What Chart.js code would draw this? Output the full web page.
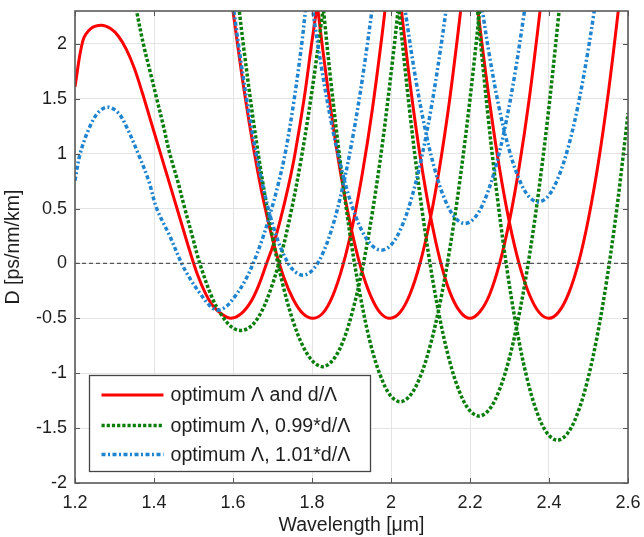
<!DOCTYPE html>
<html><head><meta charset="utf-8">
<script src="https://cdn.jsdelivr.net/npm/chart.js@4/dist/chart.umd.min.js"></script>
<style>html,body{margin:0;padding:0;background:#fff;overflow:hidden}#wrap{width:644px;height:537px;position:relative}</style>
</head><body><div id="wrap"><canvas id="c" width="644" height="537"></canvas></div>
<script>
// ---- axis ticks and labels ----
const xTicks = [1.2, 1.4, 1.6, 1.8, 2.0, 2.2, 2.4, 2.6];
const xLabels = ['1.2', '1.4', '1.6', '1.8', '2', '2.2', '2.4', '2.6'];
const yTicks = [-2, -1.5, -1, -0.5, 0, 0.5, 1, 1.5, 2];
const yLabels = ['-2', '-1.5', '-1', '-0.5', '0', '0.5', '1', '1.5', '2'];
const xTitle = 'Wavelength [\u03bcm]';
const yTitle = 'D [ps/nm/km]';
const seriesNames = ['optimum \u039b and d/\u039b', 'optimum \u039b, 0.99*d/\u039b', 'optimum \u039b, 1.01*d/\u039b'];

// ---- zero reference line ----
const zeroWl = [1.2, 2.6];
const zeroD = [0, 0];

// ---- optimum Λ and d/Λ (red), one list per visible branch ----
const redWl = [
  [1.200,1.220,1.240,1.267,1.290,1.310,1.330,1.350,1.370,1.390,1.410,1.430,1.450,1.470,1.490,1.510,1.530,1.550,1.575,1.595,1.620,1.645,1.665,1.685,1.702,1.720,1.740,1.757,1.780,1.799,1.815],
  [1.598,1.603,1.628,1.653,1.678,1.703,1.728,1.753,1.778,1.803,1.828,1.853,1.878,1.903,1.928,1.953,1.978,1.993],
  [1.808,1.823,1.848,1.873,1.898,1.923,1.948,1.973,1.998,2.023,2.048,2.073,2.098,2.123,2.148,2.173,2.188],
  [2.015,2.025,2.050,2.075,2.100,2.125,2.150,2.175,2.200,2.225,2.250,2.275,2.300,2.325,2.350,2.375,2.390],
  [2.210,2.225,2.250,2.275,2.300,2.325,2.350,2.375,2.400,2.425,2.450,2.475,2.500,2.525,2.550,2.575,2.590]
];
const redD = [
  [1.61,2.03,2.14,2.17,2.14,2.07,1.95,1.78,1.56,1.32,1.08,0.84,0.60,0.36,0.12,-0.10,-0.27,-0.39,-0.47,-0.50,-0.46,-0.35,-0.20,0.00,0.17,0.40,0.70,1.00,1.50,2.00,2.40],
  [2.36,2.22,1.58,1.03,0.56,0.18,-0.12,-0.33,-0.46,-0.50,-0.45,-0.29,-0.02,0.35,0.83,1.41,2.10,2.57],
  [2.53,2.07,1.39,0.81,0.34,-0.03,-0.29,-0.45,-0.50,-0.445,-0.28,-0.005,0.38,0.875,1.48,2.20,2.68],
  [2.68,2.35,1.59,0.95,0.43,0.02,-0.27,-0.44,-0.50,-0.44,-0.28,0.00,0.39,0.89,1.50,2.23,2.71],
  [2.64,2.16,1.46,0.86,0.37,-0.01,-0.28,-0.446,-0.50,-0.44,-0.27,0.01,0.41,0.92,1.55,2.29,2.79]
];

// ---- optimum Λ, 0.99*d/Λ (green) ----
const greenWl = [
  [1.350,1.356,1.373,1.390,1.407,1.424,1.440,1.460,1.478,1.497,1.516,1.547,1.572,1.597,1.622,1.647,1.672,1.697,1.722,1.747,1.772,1.797,1.822,1.837],
  [1.613,1.628,1.653,1.678,1.703,1.728,1.753,1.778,1.803,1.828,1.853,1.878,1.903,1.928,1.953,1.978,2.003,2.018,2.028],
  [1.823,1.833,1.848,1.873,1.898,1.923,1.948,1.973,1.998,2.023,2.048,2.073,2.098,2.123,2.148,2.173,2.198,2.223,2.233],
  [2.013,2.023,2.048,2.073,2.098,2.123,2.148,2.173,2.198,2.223,2.248,2.273,2.298,2.323,2.348,2.373,2.398,2.423,2.433],
  [2.211,2.221,2.246,2.271,2.296,2.321,2.346,2.371,2.396,2.421,2.446,2.471,2.496,2.521,2.546,2.571,2.596,2.600]
];
const greenD = [
  [2.42,2.30,2.00,1.75,1.50,1.25,1.00,0.75,0.50,0.25,0.00,-0.31,-0.475,-0.58,-0.61,-0.567,-0.44,-0.22,0.08,0.47,0.94,1.50,2.15,2.58],
  [2.39,1.94,1.265,0.68,0.185,-0.22,-0.535,-0.76,-0.895,-0.94,-0.88,-0.715,-0.43,-0.04,0.47,1.085,1.82,2.31,2.66],
  [2.54,2.17,1.65,0.88,0.22,-0.31,-0.73,-1.02,-1.20,-1.26,-1.205,-1.04,-0.765,-0.38,0.115,0.72,1.435,2.26,2.62],
  [2.58,2.21,1.366,0.635,0.016,-0.49,-0.884,-1.165,-1.334,-1.39,-1.334,-1.165,-0.884,-0.49,0.016,0.635,1.366,2.21,2.58],
  [2.62,2.23,1.33,0.55,-0.11,-0.65,-1.07,-1.37,-1.55,-1.61,-1.552,-1.378,-1.087,-0.68,-0.157,0.48,1.238,1.37]
];

// ---- optimum Λ, 1.01*d/Λ (blue) ----
const blueWl = [
  [1.200,1.213,1.238,1.260,1.284,1.310,1.331,1.360,1.386,1.407,1.440,1.470,1.495,1.516,1.540,1.559,1.580,1.605,1.630,1.651,1.675,1.698,1.715,1.732,1.753,1.774,1.786],
  [1.592,1.602,1.627,1.652,1.677,1.702,1.727,1.752,1.777,1.802,1.827,1.852,1.877,1.902,1.927,1.952,1.962],
  [1.791,1.801,1.826,1.851,1.876,1.901,1.926,1.951,1.976,2.001,2.026,2.051,2.076,2.101,2.126,2.141],
  [2.027,2.037,2.062,2.087,2.112,2.137,2.162,2.187,2.212,2.237,2.262,2.287,2.312,2.337,2.347],
  [2.223,2.233,2.248,2.273,2.298,2.323,2.348,2.373,2.398,2.423,2.448,2.473,2.498,2.513,2.523]
];
const blueD = [
  [0.755,1.00,1.25,1.38,1.424,1.37,1.24,1.00,0.76,0.50,0.25,0.00,-0.16,-0.27,-0.38,-0.425,-0.40,-0.30,-0.16,0.00,0.23,0.50,0.73,1.00,1.45,2.00,2.40],
  [2.60,2.31,1.67,1.127,0.683,0.337,0.09,-0.058,-0.107,-0.058,0.09,0.337,0.683,1.127,1.67,2.31,2.60],
  [2.585,2.326,1.741,1.246,0.841,0.526,0.301,0.166,0.121,0.172,0.326,0.582,0.941,1.40,1.966,2.35],
  [2.54,2.277,1.692,1.214,0.842,0.577,0.417,0.364,0.417,0.577,0.842,1.214,1.692,2.277,2.54],
  [2.52,2.265,1.92,1.43,1.05,0.78,0.614,0.56,0.614,0.78,1.05,1.43,1.92,2.265,2.52]
];

// ---- helpers ----
function toPoints(wls, ds) {
  const pts = [];
  wls.forEach((arc, i) => {
    if (i) pts.push({ x: arc[0], y: null });
    arc.forEach((x, j) => pts.push({ x: x, y: ds[i][j] }));
  });
  return pts;
}
const FONT = '"Liberation Sans", Arial, Helvetica, sans-serif';
const TXT = '#1e1e1e';
const RED = '#ff0000', GREEN = '#0b7d0b', BLUE = '#1f84d0';
const styles = [
  { color: RED, width: 3, dash: [] },
  { color: GREEN, width: 3.5, dash: [3.2, 2] },
  { color: BLUE, width: 3.5, dash: [4, 2.5, 2, 2.5] }
];

const decoPlugin = {
  id: 'deco',
  afterDraw(chart) {
    const ctx = chart.ctx, a = chart.chartArea;
    const xs = chart.scales.x, ys = chart.scales.y;
    ctx.save();
    ctx.strokeStyle = '#555';
    ctx.lineWidth = 1;
    ctx.beginPath();
    xTicks.forEach(v => {
      const p = Math.round(xs.getPixelForValue(v)) + 0.5;
      ctx.moveTo(p, a.bottom); ctx.lineTo(p, a.bottom - 5);
      ctx.moveTo(p, a.top); ctx.lineTo(p, a.top + 5);
    });
    yTicks.forEach(v => {
      const p = Math.round(ys.getPixelForValue(v)) + 0.5;
      ctx.moveTo(a.left, p); ctx.lineTo(a.left + 5, p);
      ctx.moveTo(a.right, p); ctx.lineTo(a.right - 5, p);
    });
    ctx.stroke();
    ctx.strokeStyle = '#5a5a5a';
    ctx.lineWidth = 1.6;
    ctx.strokeRect(a.left, a.top, a.right - a.left, a.bottom - a.top);
    const lx = 89.5, ly = 375.5, lw = 281, lh = 96;
    ctx.fillStyle = '#fff';
    ctx.fillRect(lx, ly, lw, lh);
    ctx.strokeStyle = '#444';
    ctx.lineWidth = 1.3;
    ctx.strokeRect(lx, ly, lw, lh);
    const rows = [395, 425.5, 454.5];
    seriesNames.forEach((name, i) => {
      const st = styles[i];
      ctx.strokeStyle = st.color;
      ctx.lineWidth = st.width;
      ctx.setLineDash(st.dash);
      ctx.beginPath();
      ctx.moveTo(101.5, rows[i]); ctx.lineTo(163.5, rows[i]);
      ctx.stroke();
      ctx.setLineDash([]);
      ctx.fillStyle = TXT;
      ctx.font = '19.6px ' + FONT;
      ctx.textBaseline = 'middle';
      ctx.textAlign = 'left';
      ctx.fillText(name, 170.5, rows[i] + 1);
    });
    ctx.restore();
  }
};

const datasets = [
  { label: seriesNames[0], data: toPoints(redWl, redD), borderColor: RED, borderWidth: 3, order: 3 },
  { label: seriesNames[1], data: toPoints(greenWl, greenD), borderColor: GREEN, borderWidth: 3.5, borderDash: styles[1].dash, order: 2 },
  { label: seriesNames[2], data: toPoints(blueWl, blueD), borderColor: BLUE, borderWidth: 3.5, borderDash: styles[2].dash, order: 1 },
  { label: 'zero', data: zeroWl.map((x, i) => ({ x: x, y: zeroD[i] })), borderColor: '#555', borderWidth: 1.2, borderDash: [4, 3], order: 0, tension: 0 }
];
datasets.forEach(d => { d.fill = false; d.pointRadius = 0; d.clip = 0; d.spanGaps = false; if (d.tension === undefined) d.tension = 0.35; d.borderCapStyle = 'butt'; });

function zeroPad(s) { s.paddingLeft = 0; s.paddingRight = 0; s.paddingTop = 0; s.paddingBottom = 0; }

new Chart(document.getElementById('c'), {
  type: 'line',
  data: { datasets: datasets },
  options: {
    responsive: false,
    animation: false,
    devicePixelRatio: 1,
    layout: { padding: { left: 0, top: 11, right: 16, bottom: 0 } },
    plugins: { legend: { display: false }, tooltip: { enabled: false } },
    scales: {
      x: {
        type: 'linear', min: 1.2, max: 2.6,
        afterBuildTicks: s => { s.ticks = xTicks.map(v => ({ value: v })); },
        afterFit: s => { s.height = 54; zeroPad(s); },
        ticks: { callback: v => xLabels[xTicks.indexOf(v)], font: { family: FONT, size: 18 }, color: TXT, padding: 9, maxRotation: 0, autoSkip: false, includeBounds: false },
        grid: { color: '#e4e4e4', lineWidth: 1, drawTicks: false },
        border: { display: false },
        title: { display: true, text: xTitle, font: { family: FONT, size: 19.5 }, color: TXT, padding: { top: 0, bottom: 0 } }
      },
      y: {
        type: 'linear', min: -2, max: 2.3,
        afterBuildTicks: s => { s.ticks = yTicks.map(v => ({ value: v })); },
        afterFit: s => { s.width = 75; zeroPad(s); },
        ticks: { callback: v => yLabels[yTicks.indexOf(v)], font: { family: FONT, size: 18 }, color: TXT, padding: 8, autoSkip: false, includeBounds: false },
        grid: { color: '#e4e4e4', lineWidth: 1, drawTicks: false },
        border: { display: false },
        title: { display: true, text: yTitle, font: { family: FONT, size: 19.5 }, color: TXT, padding: { top: 2, bottom: 0 } }
      }
    }
  },
  plugins: [decoPlugin]
});
</script></body></html>
